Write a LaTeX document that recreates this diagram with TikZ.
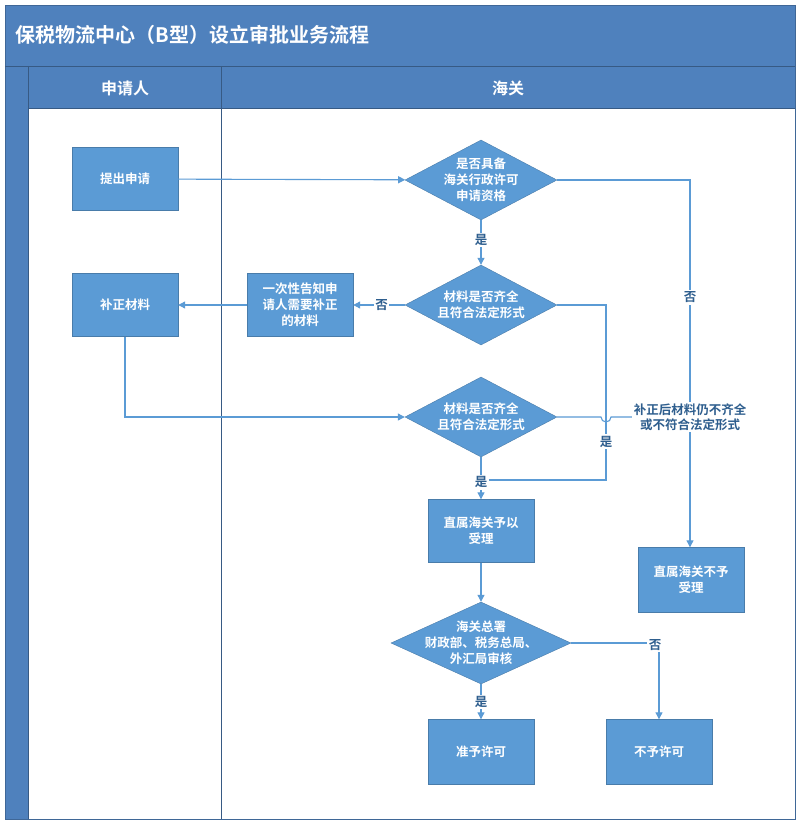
\documentclass[tikz,border=0pt]{standalone}
\usepackage{fontspec}
\setmainfont{Noto Sans CJK SC}[BoldFont={Noto Sans CJK SC Bold}]
\usetikzlibrary{shapes.geometric,arrows.meta}
\definecolor{hdr}{HTML}{4F81BD}
\definecolor{bx}{HTML}{5B9BD5}
\definecolor{ln}{HTML}{5B9BD5}
\definecolor{lbl}{HTML}{2E5E8E}
\tikzset{
  box/.style={draw=bx!80!black,fill=bx,minimum width=106pt,minimum height=63pt,text=white,font=\bfseries\fontsize{12.5}{16}\selectfont,align=center},
  dia/.style={diamond,fill=bx,draw=bx!80!black,aspect=1.9,inner sep=-10pt,text=white,font=\bfseries\fontsize{12.5}{16}\selectfont,align=center},
  conn/.style={draw=ln,line width=1.1pt,-{Triangle[length=7pt,width=7pt]}},
  plain/.style={draw=ln,line width=1.1pt},
  lab/.style={fill=white,text=lbl,font=\bfseries\fontsize{12.5}{15}\selectfont,inner sep=1.5pt,align=center}
}
\begin{document}
\begin{tikzpicture}[x=1pt,y=-1pt]
\useasboundingbox (0,0) rectangle (799,824);
\fill[white] (0,0) rectangle (799,824);
% frame
\fill[hdr] (5,5) rectangle (795,108);
\fill[hdr] (5,5) rectangle (28,819);
\draw[hdr!80!black,line width=0.8pt] (5,5) rectangle (795,819);
\draw[hdr!70!black,line width=0.8pt] (5,66) -- (795,66);
\draw[hdr!70!black,line width=0.8pt] (28,66) -- (28,819);
\draw[hdr!70!black,line width=0.8pt] (221,66) -- (221,819);
\draw[hdr!70!black,line width=0.8pt] (28,108) -- (795,108);
\node[text=white,font=\bfseries\fontsize{20}{24}\selectfont,anchor=west] (title) at (12,35) {保税物流中心（B型）设立审批业务流程};
\node[text=white,font=\bfseries\fontsize{16}{18}\selectfont] (l1) at (125,88) {申请人};
\node[text=white,font=\bfseries\fontsize{16}{18}\selectfont] (l2) at (508,88) {海关};
% nodes
\node[box] (a) at (125,179) {提出申请};
\node[dia,minimum width=152pt,minimum height=80pt] (d1) at (481,180) {是否具备\\海关行政许可\\申请资格};
\node[dia,minimum width=152pt,minimum height=80pt] (d2) at (481,305) {材料是否齐全\\且符合法定形式};
\node[box] (g) at (300,305) {一次性告知申\\请人需要补正\\的材料};
\node[box] (b) at (125,305) {补正材料};
\node[dia,minimum width=152pt,minimum height=80pt] (d3) at (481,417) {材料是否齐全\\且符合法定形式};
\node[box] (s) at (481,531) {直属海关予以\\受理};
\node[box,minimum height=65pt] (n) at (691,580) {直属海关不予\\受理};
\node[dia,minimum width=180pt,minimum height=82pt] (d4) at (481,643) {海关总署\\财政部、税务总局、\\外汇局审核};
\node[box,minimum height=65pt] (y) at (481,752) {准予许可};
\node[box,minimum height=65pt] (x) at (659,752) {不予许可};
\coordinate (c1) at (690,180);
\coordinate (c2) at (606,305);
\coordinate (c3) at (606,480);
\coordinate (c4) at (481,480);
\coordinate (c5) at (125,417);
\coordinate (c6) at (659,643);
\coordinate (c7) at (690,417);
% connectors
\draw[conn] (a) -- (d1);
\draw[conn] (d1) -- node[lab,pos=0.45]{是} (d2);
\draw[conn] (d1.east) -- (c1) -- node[lab,pos=0.32]{否} (n.north -| c1);
\draw[conn] (d2) -- node[lab,pos=0.45]{否} (g);
\draw[conn] (g) -- (b);
\draw[plain] (d2.east) -- (c2) -- node[lab,pos=0.78]{是} (c3) -- (c4);
\draw[conn] (b.south) -- (c5) -- (d3.west);
\draw[plain] (d3.east) -- (601,417) arc[start angle=180,end angle=0,radius=5] -- (c7);
\node[lab] (lb) at (c7) {补正后材料仍不齐全\\或不符合法定形式};
\draw[conn] (d3) -- node[lab,pos=0.6]{是} (s);
\draw[conn] (s) -- (d4);
\draw[conn] (d4.east) -- (c6) -- (x.north);
\node[lab] (no4) at (655,645) {否};
\draw[conn] (d4) -- node[lab,pos=0.5]{是} (y);
\end{tikzpicture}
\end{document}
